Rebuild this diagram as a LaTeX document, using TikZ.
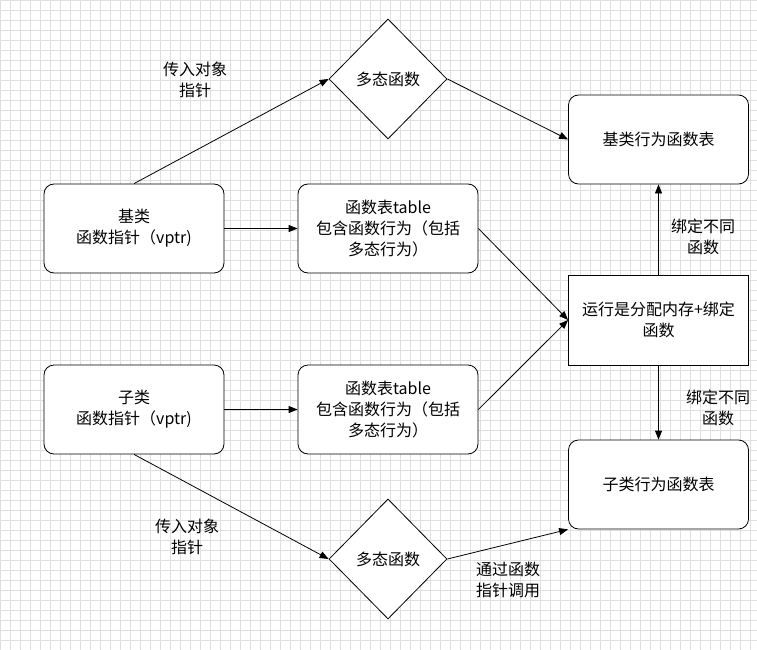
\documentclass[tikz,border=0pt]{standalone}
\usepackage{fontspec}
\setmainfont{Noto Sans CJK SC}
\usetikzlibrary{shapes.geometric,arrows.meta}
\begin{document}
\begin{tikzpicture}[x=1pt,y=-1pt,
  box/.style={draw,thick,fill=white,rounded corners=10pt,minimum width=180pt,minimum height=89pt,align=center,font=\fontsize{16}{21}\selectfont},
  rbox/.style={draw,thick,fill=white,minimum width=180pt,minimum height=90pt,align=center,font=\fontsize{16}{21}\selectfont},
  dia/.style={draw,thick,fill=white,diamond,minimum width=118pt,minimum height=120pt,inner sep=0pt,font=\fontsize{16}{21}\selectfont},
  arr/.style={-{Triangle[length=9pt,width=7pt]},thick},
  lbl/.style={align=center,font=\fontsize{16}{21}\selectfont},
  gridl/.style={gray!25,line width=0.4pt}]
\useasboundingbox (0,0) rectangle (757,650);
\foreach \i in {0,10,...,750} {\draw[gridl] (\i,0) -- (\i,650);}
\foreach \j in {0,10,...,650} {\draw[gridl] (0,\j) -- (757,\j);}
\node[box] (b) at (134,228.5) {基类\\函数指针（vptr)};
\node[box] (s) at (134,409.5) {子类\\函数指针（vptr)};
\node[box] (tb) at (388,228.5) {函数表table\\包含函数行为（包括\\多态行为）};
\node[box] (ts) at (388,409.5) {函数表table\\包含函数行为（包括\\多态行为）};
\node[dia] (d1) at (388,79) {多态函数};
\node[dia] (d2) at (388,559) {多态函数};
\node[box] (bb) at (658.5,139.5) {基类行为函数表};
\node[rbox] (c) at (658.5,320) {运行是分配内存+绑定\\函数};
\node[box] (sb) at (658.5,484.5) {子类行为函数表};
\draw[arr] (b.north) -- (d1.west);
\draw[arr] (d1.east) -- (bb.west);
\draw[arr] (b) -- (tb);
\draw[arr] (s) -- (ts);
\draw[arr] (tb.east) -- (c.west);
\draw[arr] (ts.east) -- (c.west);
\draw[arr] (s.south) -- (d2.west);
\draw[arr] (d2.east) -- (sb.south west);
\draw[arr] (c.north) -- (bb.south);
\draw[arr] (c.south) -- (sb.north);
\node[lbl] at (195,80) {传入对象\\指针};
\node[lbl] at (187,537) {传入对象\\指针};
\node[lbl] at (508,580) {通过函数\\指针调用};
\node[lbl] at (703,237) {绑定不同\\函数};
\node[lbl] at (718,408) {绑定不同\\函数};
\end{tikzpicture}
\end{document}
